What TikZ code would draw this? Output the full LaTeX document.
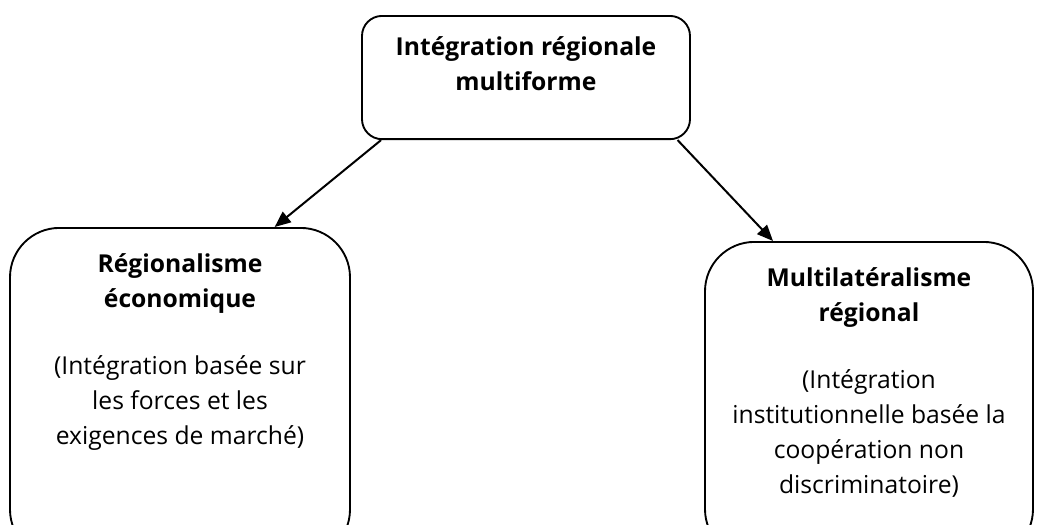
\documentclass[tikz,border=0pt]{standalone}
\usepackage{fontspec}
\setmainfont{Open Sans}
\usetikzlibrary{arrows.meta}

\begin{document}
\begin{tikzpicture}[x=0.75pt,y=-0.75pt,
    box/.style={draw, line width=1.4pt, anchor=north, align=center, inner xsep=0pt, inner ysep=19.5pt,
      font=\fontsize{18.5}{26.25}\selectfont},
    link/.style={line width=1.5pt, -{Triangle[length=12pt,width=10pt]}}]
  \useasboundingbox (0,0) rectangle (1040,525);
  \node[box, rounded corners=15pt, minimum width=246pt, inner ysep=15.5pt, text depth=21pt] (integ) at (526,15)
    {\textbf{Intégration régionale}\\\textbf{multiforme}}; % top box
  \node[box, rounded corners=37pt, minimum width=255pt, text depth=66pt] (eco) at (180,227)
    {\textbf{Régionalisme}\\\textbf{économique}\\[24pt](Intégration basée sur\\les forces et les\\exigences de marché)}; % left box
  \node[box, rounded corners=37pt, minimum width=246pt, text depth=29pt] (multi) at (869,241)
    {\textbf{Multilatéralisme}\\\textbf{régional}\\[24pt](Intégration\\institutionnelle basée la\\coopération non\\discriminatoire)}; % right box
  \draw[link] ([xshift=15pt]integ.south west) -- ([xshift=71pt]eco.north); % to economic
  \draw[link] ([xshift=-10pt]integ.south east) -- ([xshift=-72pt]multi.north); % to multilateral
\end{tikzpicture}
\end{document}
